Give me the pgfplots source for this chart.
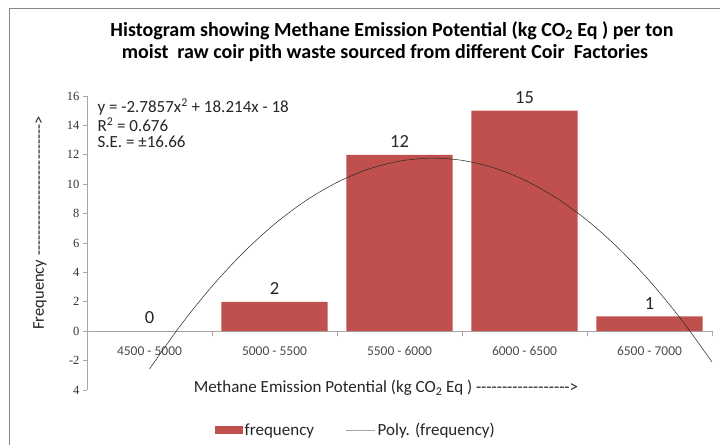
\documentclass[border=0pt]{standalone}
\usepackage{pgfplots}
\pgfplotsset{compat=1.18}
\usepackage{fontspec}
\setmainfont{Carlito}[Ligatures=TeXOff]
\newfontfamily\serifnum{Liberation Serif}
\definecolor{barred}{HTML}{C0504D}
\definecolor{framegray}{HTML}{868686}
\definecolor{axgray}{HTML}{A6A6A6}
\begin{document}
\begin{tikzpicture}
\useasboundingbox (0bp,0bp) rectangle (720bp,445bp);
\fill[white] (0bp,0bp) rectangle (720bp,445bp);
\draw[framegray, line width=0.8bp] (9bp,0bp) -- (9bp,437bp) -- (720bp,437bp);
\begin{axis}[
  at={(87bp,55bp)}, anchor=south west,
  scale only axis, width=625bp, height=294bp,
  xmin=0.5, xmax=5.5, ymin=-4, ymax=16,
  clip=false,
  axis x line*=middle, axis y line*=left,
  axis line style={axgray, line width=0.6bp},
  /pgf/number format/assume math mode=true,
  tick align=outside,
  xtick={1,2,3,4,5},
  xticklabels={4500 - 5000, 5000 - 5500, 5500 - 6000, 6000 - 6500, 6500 - 7000},
  major x tick style={draw=none},
  minor xtick={0.5,1.5,2.5,3.5,4.5,5.5},
  minor x tick style={axgray, line width=0.6bp},
  minor tick length=5bp,
  major tick length=4bp,
  xticklabel style={font=\fontsize{13.5bp}{15bp}\selectfont, text=black!70, yshift=-8bp},
  ytick={-4,-2,0,2,4,6,8,10,12,14,16},
  yticklabels={4,-2,0,2,4,6,8,10,12,14,16},
  ytick style={axgray, line width=0.6bp},
  yticklabel style={font=\serifnum\fontsize{12.5bp}{14bp}\selectfont, text=black!80},
  legend style={at={(0.43,-0.136)}, anchor=center, draw=none, fill=none,
    font=\fontsize{17bp}{19bp}\selectfont, text=black!85,
    /tikz/every even column/.append style={column sep=30bp}},
  legend columns=2,
  legend cell align=left,
]
\addplot[ybar, bar width=0.85, fill=barred, draw=none,
  nodes near coords,
  nodes near coords style={font=\fontsize{18.5bp}{20bp}\selectfont, text=black!85, anchor=south, inner sep=0pt, yshift=7bp},
  point meta=y,
  legend image code/.code={\fill[barred] (0bp,-4bp) rectangle (28bp,4bp);}]
  coordinates {(1,0) (2,2) (3,12) (4,15) (5,1)};
\addlegendentry{frequency}
\addplot[black!85, line width=0.5bp, smooth, mark=none,
  legend image code/.code={\draw[gray!70, line width=0.6bp] (0bp,0bp) -- (29bp,0bp);}]
  coordinates {(1,-2.5717) (1.25,0.4148) (1.5,3.0532) (1.75,5.3433) (2,7.2852)
   (2.25,8.8789) (2.5,10.1244) (2.75,11.0217) (3,11.5707) (3.25,11.7716)
   (3.5,11.6242) (3.75,11.1286) (4,10.2848) (4.25,9.0928) (4.5,7.5526)
   (4.75,5.6641) (5,3.4275) (5.25,0.8427) (5.5,-2.0904)};
\addlegendentry{Poly. (frequency)}
\end{axis}
\node[font=\bfseries\fontsize{20bp}{22bp}\selectfont] at (392bp,414bp)
  {Histogram showing Methane Emission Potential (kg CO\textsubscript{2} Eq ) per ton};
\node[font=\bfseries\fontsize{20bp}{22bp}\selectfont] at (385bp,392bp)
  {moist\ \ raw coir pith waste sourced from different Coir\ \ Factories};
\begin{scope}[font=\fontsize{17bp}{19bp}\selectfont, text=black!85]
\node[anchor=west] at (94bp,338bp) {y = -2.7857x\textsuperscript{2} + 18.214x - 18};
\node[anchor=west] at (94bp,320bp) {R\textsuperscript{2} = 0.676};
\node[anchor=west] at (94bp,303bp) {S.E. = ±16.66};
\end{scope}
\node[rotate=90, font=\fontsize{16.5bp}{18bp}\selectfont, text=black!85] at (40bp,222bp)
  {Frequency --------------------------{>}};
\node[font=\fontsize{17bp}{19bp}\selectfont, text=black!85] at (386bp,57bp)
  {Methane Emission Potential (kg CO\textsubscript{2} Eq ) ------------------{>}};
\end{tikzpicture}
\end{document}
